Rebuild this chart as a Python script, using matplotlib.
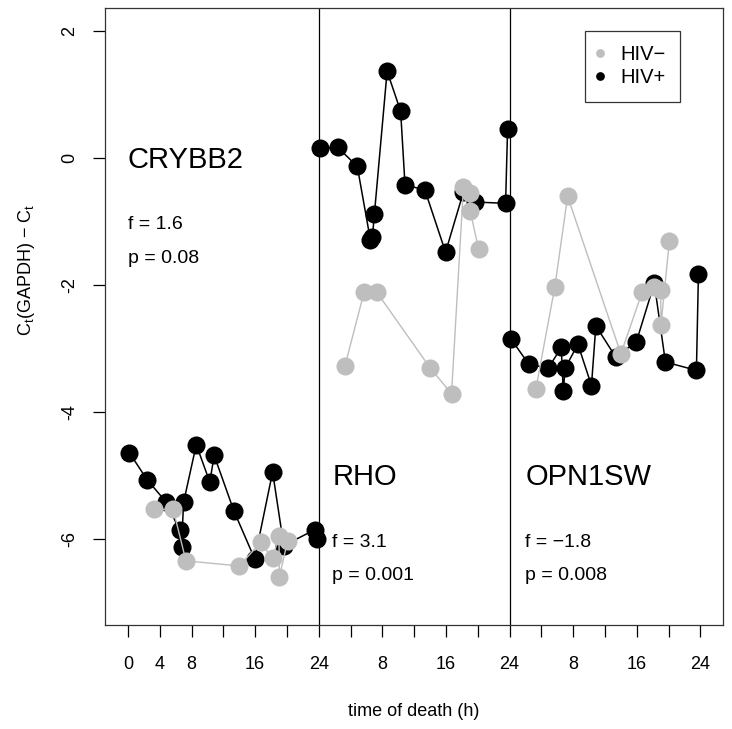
import numpy as np
import matplotlib
matplotlib.use('Agg')
import matplotlib.pyplot as plt
from matplotlib.lines import Line2D

plt.rcParams['font.family'] = ['Liberation Sans', 'DejaVu Sans']
plt.rcParams['axes.unicode_minus'] = False

# ---------------------------------------------------------------
# data: time of death (h) per sample, shared by the three genes
# ---------------------------------------------------------------
genes = ['CRYBB2', 'RHO', 'OPN1SW']
f_labels = ['f = 1.6', 'f = 3.1', 'f = \u22121.8']
p_labels = ['p = 0.08', 'p = 0.001', 'p = 0.008']

t_pos = [0.2, 2.4, 4.85, 6.5, 6.75, 7.0, 8.6, 10.3, 10.85, 13.35, 15.95, 18.2, 19.6, 23.5, 23.75]
t_neg = [3.3, 5.7, 7.3, 14.0, 16.7, 18.2, 19.0, 19.05, 20.1]

# delta Ct values, HIV+ (black) and HIV- (gray)
hiv_pos = {
    'CRYBB2': [-4.65, -5.07, -5.43, -5.87, -6.13, -5.43, -4.52, -5.11, -4.69, -5.57, -6.32, -4.95, -6.11, -5.86, -6.00],
    'RHO':    [0.15, 0.16, -0.14, -1.30, -1.25, -0.89, 1.36, 0.73, -0.43, -0.51, -1.49, -0.54, -0.70, -0.72, 0.45],
    'OPN1SW': [-2.86, -3.25, -3.32, -2.99, -3.68, -3.31, -2.94, -3.59, -2.65, -3.14, -2.90, -1.98, -3.22, -3.35, -1.84],
}
hiv_neg = {
    'CRYBB2': [-5.54, -5.54, -6.35, -6.43, -6.06, -6.31, -5.96, -6.60, -6.03],
    'RHO':    [-3.28, -2.12, -2.12, -3.31, -3.72, -0.46, -0.55, -0.84, -1.44],
    'OPN1SW': [-3.65, -2.03, -0.61, -3.09, -2.11, -2.04, -2.09, -2.63, -1.31],
}

# label positions (x within the whole axis, y centre of gene name)
name_pos = [(0.0, 0.0), (25.7, -5.0), (50.0, -5.0)]

xtick_pos = np.arange(0, 73, 4)
xtick_lab = {0: '0', 4: '4', 8: '8', 16: '16', 24: '24', 32: '8', 40: '16', 48: '24',
             56: '8', 64: '16', 72: '24'}

GRAY = '#BEBEBE'

# ---------------------------------------------------------------
fig = plt.figure(figsize=(7.32, 7.29), dpi=100)
ax = fig.add_axes([105/732, 1 - 625/729, (723.3 - 105)/732, (625 - 7.7)/729])

for i, g in enumerate(genes):
    off = 24 * i
    ax.plot(np.array(t_pos) + off, hiv_pos[g], '-', color='black', lw=1.1, zorder=2)
    ax.plot(np.array(t_pos) + off, hiv_pos[g], 'o', color='black', ms=13, mec='none', zorder=3)
    ax.plot(np.array(t_neg) + off, hiv_neg[g], '-', color=GRAY, lw=1.0, zorder=4)
    ax.plot(np.array(t_neg) + off, hiv_neg[g], 'o', color=GRAY, ms=13, mec='none', zorder=5)

    nx, ny = name_pos[i]
    ax.text(nx, ny - 0.157, g, fontsize=21, ha='left', va='baseline')
    ax.text(nx, ny - 1.13, f_labels[i], fontsize=14, ha='left', va='baseline')
    ax.text(nx, ny - 1.656, p_labels[i], fontsize=14, ha='left', va='baseline')

for xv in [24, 48]:
    ax.axvline(xv, color='black', lw=0.9, zorder=1)

ax.set_xlim(-2.88, 74.88)
ax.set_ylim(-7.36, 2.36)

ax.set_xticks(xtick_pos)
ax.set_xticklabels([xtick_lab.get(int(v), '') for v in xtick_pos])
ax.set_yticks([-6, -4, -2, 0, 2])
ax.set_yticklabels(['-6', '-4', '-2', '0', '2'], rotation=90, va='center')
ax.tick_params(axis='both', length=8.6, width=0.9, labelsize=13)
ax.tick_params(axis='x', pad=14)
ax.tick_params(axis='y', pad=11)

for sp in ax.spines.values():
    sp.set_linewidth(0.9)
    sp.set_color('#333333')

ax.set_xlabel('time of death (h)', fontsize=13, labelpad=21)
ax.set_ylabel('C$_\\mathregular{t}$(GAPDH) \u2212 C$_\\mathregular{t}$', fontsize=13)
ax.yaxis.set_label_coords(-0.11, 0.575)

handles = [Line2D([], [], marker='o', ls='none', color=GRAY, ms=6.3, mec='none'),
           Line2D([], [], marker='o', ls='none', color='black', ms=6.3, mec='none')]
leg = ax.legend(handles, ['HIV\u2212', 'HIV+'], loc='upper right', bbox_to_anchor=(0.93, 0.963),
                borderaxespad=0, fontsize=14.5, frameon=True, fancybox=False,
                handletextpad=0.95, handlelength=0.1, borderpad=0.72, labelspacing=0.2)
leg.get_frame().set_edgecolor('black')
leg.get_frame().set_linewidth(0.9)

fig.savefig('out.png', dpi=100)
